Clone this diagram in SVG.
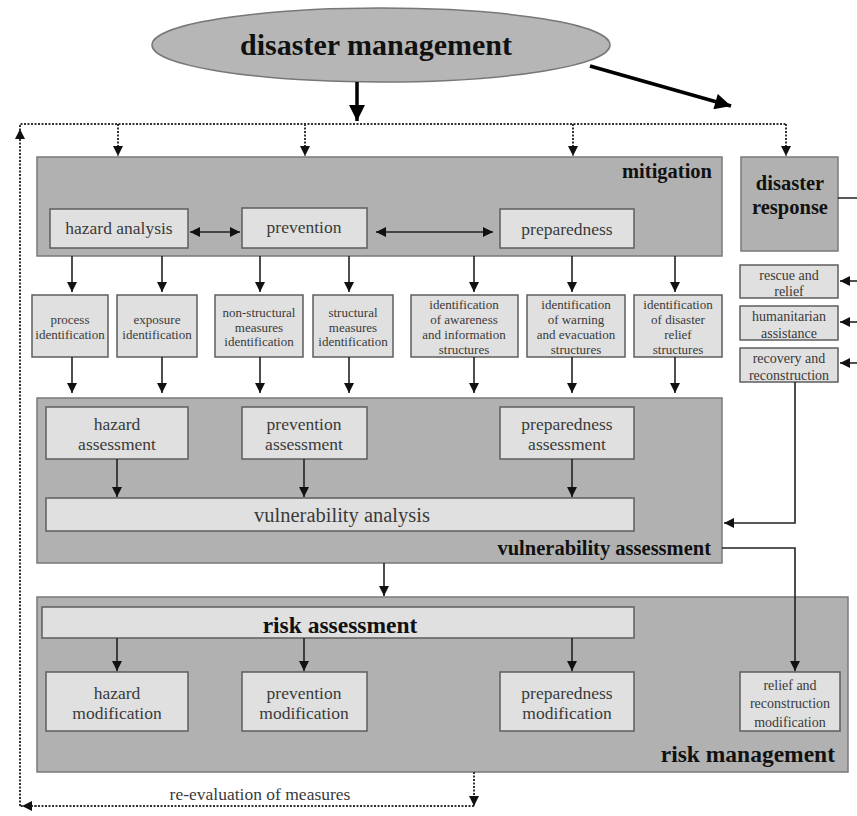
<svg xmlns="http://www.w3.org/2000/svg" width="857" height="816" viewBox="0 0 857 816">
<defs>
<marker id="ah" viewBox="0 0 10 10" refX="10" refY="5" markerWidth="10" markerHeight="10" markerUnits="userSpaceOnUse" orient="auto-start-reverse"><path d="M0,0 L10,5 L0,10 z" fill="#111"/></marker>
<marker id="ahb" viewBox="0 0 10 10" refX="10" refY="5" markerWidth="18" markerHeight="16" markerUnits="userSpaceOnUse" orient="auto"><path d="M0,0 L10,5 L0,10 z" fill="#000"/></marker>
</defs>
<style>
.outer{fill:#b1b1b1;stroke:#7a7a7a;stroke-width:1.5}
.inner{fill:#e0e0e0;stroke:#5e5e5e;stroke-width:1.5}
.t{font-family:"Liberation Serif",serif;fill:#3a3a3a;text-anchor:middle}
.b{font-family:"Liberation Serif",serif;fill:#111;font-weight:bold}
.s{font-size:13px}
.r{font-size:14px}
.m{font-size:17.5px}
.c{stroke:#222;stroke-width:1.6;fill:none}
.d{stroke:#333;stroke-width:2;stroke-dasharray:2,1.5;fill:none}
</style>
<rect width="857" height="816" fill="#fff"/>

<g id="disaster-management">
<ellipse cx="381" cy="45" rx="229" ry="37" fill="#b6b6b6" stroke="#777" stroke-width="1.5"/>
<text class="b" x="376" y="55" font-size="30" text-anchor="middle">disaster management</text>
</g>

<g id="mitigation">
<rect class="outer" x="37" y="157" width="685" height="99"/>
<text class="b" x="712" y="178" font-size="20.5" text-anchor="end">mitigation</text>
</g>
<g id="disaster-response">
<rect class="outer" x="741" y="157" width="97" height="94"/>
<text class="b" x="790" y="190" font-size="20.5" text-anchor="middle">disaster</text>
<text class="b" x="790" y="214" font-size="20.5" text-anchor="middle">response</text>
</g>
<g id="hazard-analysis"><rect class="inner" x="50" y="209" width="138" height="39"/><text class="t m" x="119" y="234">hazard analysis</text></g>
<g id="prevention"><rect class="inner" x="242" y="208" width="125" height="40"/><text class="t m" x="304" y="233">prevention</text></g>
<g id="preparedness"><rect class="inner" x="500" y="209" width="134" height="39"/><text class="t m" x="567" y="235">preparedness</text></g>

<g id="process-identification"><rect class="inner" x="32" y="295" width="76" height="62"/><text class="t s" x="70" y="324">process</text><text class="t s" x="70" y="339">identification</text></g>
<g id="exposure-identification"><rect class="inner" x="117" y="295" width="80" height="62"/><text class="t s" x="157" y="324">exposure</text><text class="t s" x="157" y="339">identification</text></g>
<g id="non-structural"><rect class="inner" x="215" y="295" width="88" height="62"/><text class="t s" x="259" y="317">non-structural</text><text class="t s" x="259" y="332">measures</text><text class="t s" x="259" y="346">identification</text></g>
<g id="structural"><rect class="inner" x="313" y="295" width="80" height="62"/><text class="t s" x="353" y="317">structural</text><text class="t s" x="353" y="332">measures</text><text class="t s" x="353" y="346">identification</text></g>
<g id="awareness"><rect class="inner" x="411" y="295" width="107" height="62"/><text class="t s" x="464" y="309">identification</text><text class="t s" x="464" y="324">of awareness</text><text class="t s" x="464" y="339">and information</text><text class="t s" x="464" y="354">structures</text></g>
<g id="warning"><rect class="inner" x="527" y="295" width="98" height="62"/><text class="t s" x="576" y="309">identification</text><text class="t s" x="576" y="324">of warning</text><text class="t s" x="576" y="339">and evacuation</text><text class="t s" x="576" y="354">structures</text></g>
<g id="relief-structures"><rect class="inner" x="634" y="295" width="88" height="62"/><text class="t s" x="678" y="309">identification</text><text class="t s" x="678" y="324">of disaster</text><text class="t s" x="678" y="339">relief</text><text class="t s" x="678" y="354">structures</text></g>

<g id="rescue"><rect class="inner" x="740" y="265" width="98" height="33"/><text class="t r" x="789" y="280">rescue and</text><text class="t r" x="789" y="296">relief</text></g>
<g id="humanitarian"><rect class="inner" x="740" y="306" width="98" height="34"/><text class="t r" x="789" y="321">humanitarian</text><text class="t r" x="789" y="338">assistance</text></g>
<g id="recovery"><rect class="inner" x="740" y="348" width="98" height="34"/><text class="t r" x="789" y="363">recovery and</text><text class="t r" x="789" y="380">reconstruction</text></g>

<g id="vulnerability-assessment">
<rect class="outer" x="37" y="398" width="685" height="165"/>
<text class="b" x="711" y="555" font-size="20.5" text-anchor="end">vulnerability assessment</text>
</g>
<g id="hazard-assessment"><rect class="inner" x="46" y="407" width="142" height="52"/><text class="t m" x="117" y="430">hazard</text><text class="t m" x="117" y="450">assessment</text></g>
<g id="prevention-assessment"><rect class="inner" x="242" y="407" width="125" height="52"/><text class="t m" x="304" y="430">prevention</text><text class="t m" x="304" y="450">assessment</text></g>
<g id="preparedness-assessment"><rect class="inner" x="500" y="407" width="134" height="52"/><text class="t m" x="567" y="430">preparedness</text><text class="t m" x="567" y="450">assessment</text></g>
<g id="vulnerability-analysis"><rect class="inner" x="46" y="498" width="588" height="33"/><text class="t" x="342" y="522" font-size="20.5">vulnerability analysis</text></g>

<g id="risk-management">
<rect class="outer" x="37" y="597" width="811" height="175"/>
<text class="b" x="835" y="762" font-size="23.5" text-anchor="end">risk management</text>
</g>
<g id="risk-assessment"><rect class="inner" x="42" y="607" width="592" height="31"/><text class="b" x="340" y="633" font-size="23.5" text-anchor="middle">risk assessment</text></g>
<g id="hazard-modification"><rect class="inner" x="46" y="672" width="142" height="59"/><text class="t m" x="117" y="699">hazard</text><text class="t m" x="117" y="719">modification</text></g>
<g id="prevention-modification"><rect class="inner" x="242" y="672" width="125" height="59"/><text class="t m" x="304" y="699">prevention</text><text class="t m" x="304" y="719">modification</text></g>
<g id="preparedness-modification"><rect class="inner" x="500" y="672" width="134" height="59"/><text class="t m" x="567" y="699">preparedness</text><text class="t m" x="567" y="719">modification</text></g>
<g id="relief-modification"><rect class="inner" x="740" y="672" width="100" height="59"/><text class="t r" x="790" y="690">relief and</text><text class="t r" x="790" y="708">reconstruction</text><text class="t r" x="790" y="727">modification</text></g>

<text class="t" x="260" y="800" font-size="17.5">re-evaluation of measures</text>

<g id="connectors">
<line x1="357" y1="82" x2="357" y2="121" stroke="#000" stroke-width="3.5" marker-end="url(#ahb)"/>
<line x1="590" y1="66" x2="731" y2="106" stroke="#000" stroke-width="3.5" marker-end="url(#ahb)"/>

<path class="d" d="M20,806 L20,124 L786,124"/>
<line class="d" x1="20" y1="140" x2="20" y2="129" marker-end="url(#ah)"/>
<line class="d" x1="118" y1="124" x2="118" y2="156" marker-end="url(#ah)"/>
<line class="d" x1="305" y1="124" x2="305" y2="156" marker-end="url(#ah)"/>
<line class="d" x1="573" y1="124" x2="573" y2="156" marker-end="url(#ah)"/>
<line class="d" x1="786" y1="124" x2="786" y2="156" marker-end="url(#ah)"/>
<line class="d" x1="474" y1="772" x2="474" y2="806" marker-end="url(#ah)"/>
<path class="d" d="M474,806 L20,806"/>
<line class="d" x1="40" y1="806" x2="22" y2="806" marker-end="url(#ah)"/>

<line class="c" x1="190" y1="232" x2="240" y2="232" marker-start="url(#ah)" marker-end="url(#ah)"/>
<line class="c" x1="376" y1="232" x2="493" y2="232" marker-start="url(#ah)" marker-end="url(#ah)"/>

<line class="c" x1="72" y1="256" x2="72" y2="292" marker-end="url(#ah)"/>
<line class="c" x1="162" y1="256" x2="162" y2="292" marker-end="url(#ah)"/>
<line class="c" x1="260" y1="256" x2="260" y2="292" marker-end="url(#ah)"/>
<line class="c" x1="349" y1="256" x2="349" y2="292" marker-end="url(#ah)"/>
<line class="c" x1="474" y1="256" x2="474" y2="292" marker-end="url(#ah)"/>
<line class="c" x1="572" y1="256" x2="572" y2="292" marker-end="url(#ah)"/>
<line class="c" x1="675" y1="256" x2="675" y2="292" marker-end="url(#ah)"/>

<line class="c" x1="72" y1="357" x2="72" y2="393" marker-end="url(#ah)"/>
<line class="c" x1="162" y1="357" x2="162" y2="393" marker-end="url(#ah)"/>
<line class="c" x1="260" y1="357" x2="260" y2="393" marker-end="url(#ah)"/>
<line class="c" x1="349" y1="357" x2="349" y2="393" marker-end="url(#ah)"/>
<line class="c" x1="474" y1="357" x2="474" y2="393" marker-end="url(#ah)"/>
<line class="c" x1="572" y1="357" x2="572" y2="393" marker-end="url(#ah)"/>
<line class="c" x1="675" y1="357" x2="675" y2="393" marker-end="url(#ah)"/>

<path class="c" d="M838,198 L859,198 L859,363"/>
<line class="c" x1="859" y1="281" x2="840" y2="281" marker-end="url(#ah)"/>
<line class="c" x1="859" y1="322" x2="840" y2="322" marker-end="url(#ah)"/>
<line class="c" x1="859" y1="363" x2="840" y2="363" marker-end="url(#ah)"/>

<line class="c" x1="117" y1="459" x2="117" y2="497" marker-end="url(#ah)"/>
<line class="c" x1="304" y1="459" x2="304" y2="497" marker-end="url(#ah)"/>
<line class="c" x1="572" y1="459" x2="572" y2="497" marker-end="url(#ah)"/>

<path class="c" d="M795,382 L795,523 L724,523" marker-end="url(#ah)"/>
<path class="c" d="M722,548 L795,548 L795,671" marker-end="url(#ah)"/>

<line class="c" x1="384" y1="563" x2="384" y2="596" marker-end="url(#ah)"/>

<line class="c" x1="117" y1="638" x2="117" y2="671" marker-end="url(#ah)"/>
<line class="c" x1="304" y1="638" x2="304" y2="671" marker-end="url(#ah)"/>
<line class="c" x1="572" y1="638" x2="572" y2="671" marker-end="url(#ah)"/>
</g>
</svg>
